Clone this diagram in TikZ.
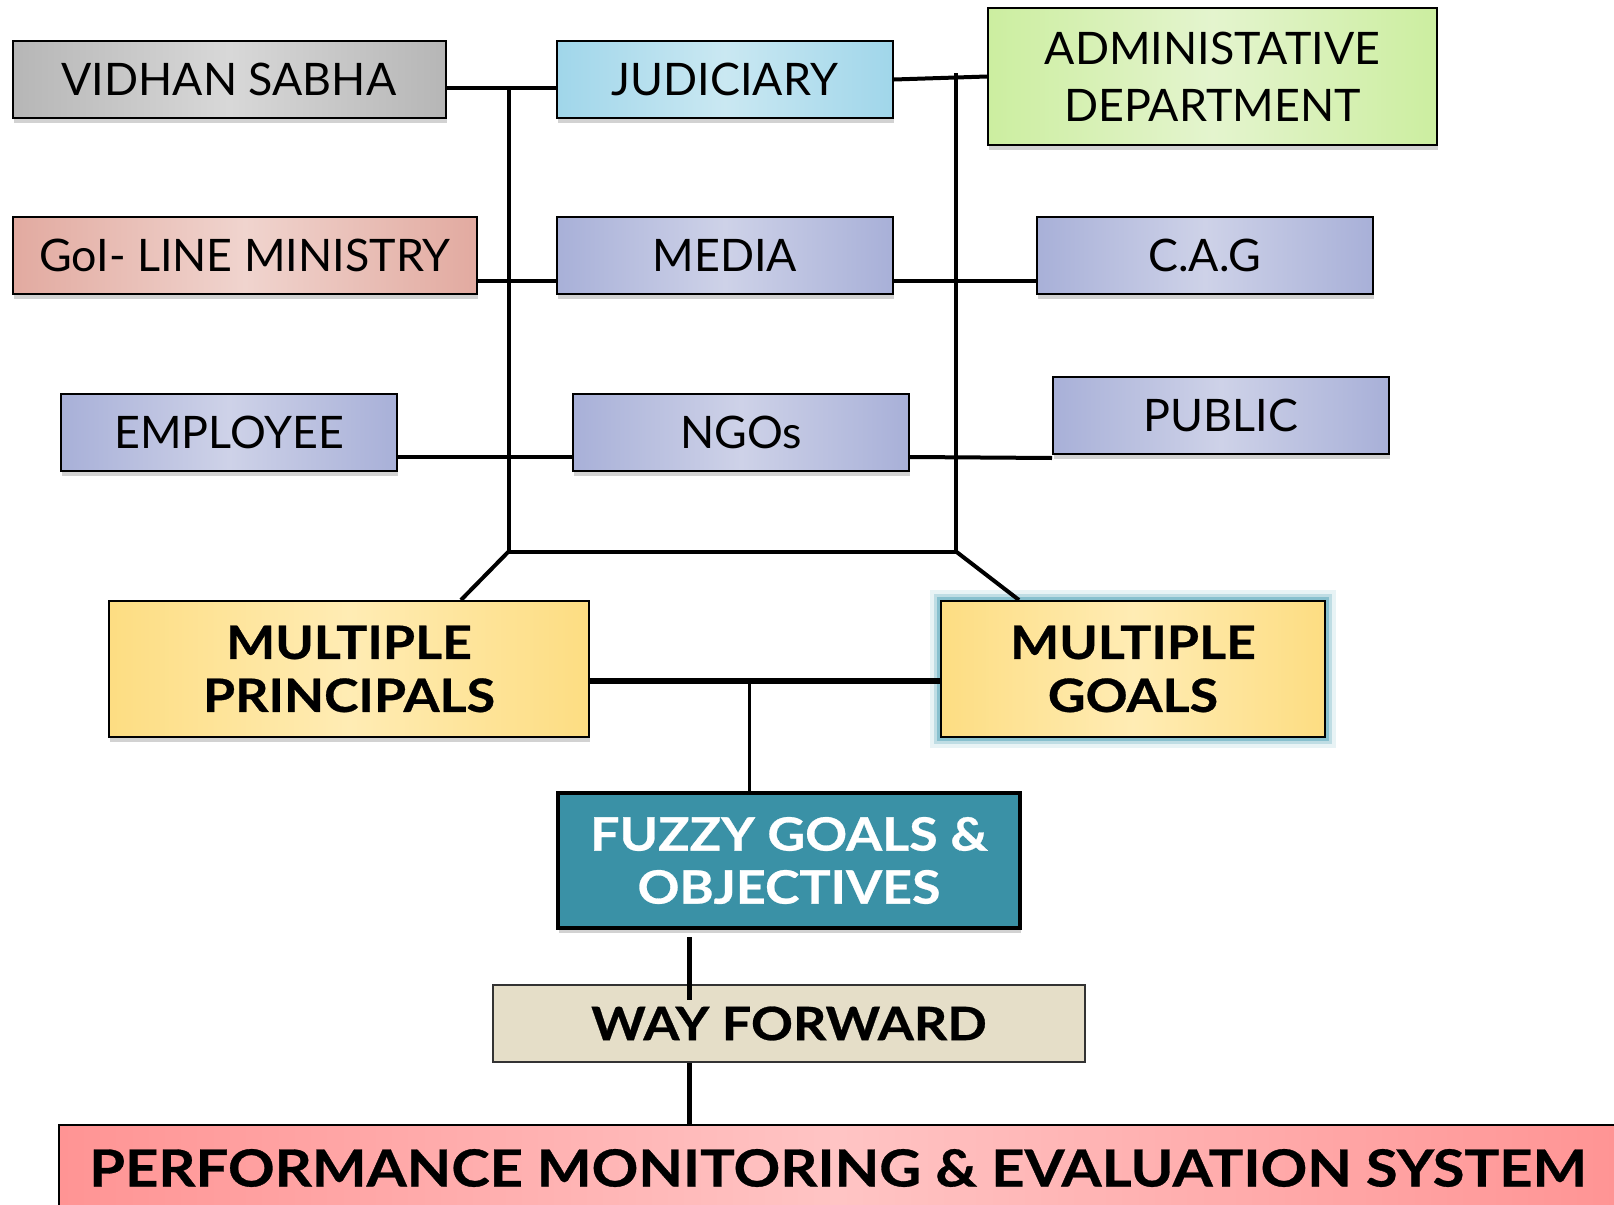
\documentclass[tikz,border=0pt]{standalone}
\usepackage{fontspec}
\setmainfont{Lato}
\newfontfamily\wideface{Lato}[FakeStretch=1.13, FakeBold=0.6]
\usetikzlibrary{shadows}
\definecolor{SabhaGrey}{RGB}{182,182,182}
\definecolor{SabhaLight}{RGB}{216,216,216}
\definecolor{CourtBlue}{RGB}{160,214,234}
\definecolor{CourtLight}{RGB}{202,232,242}
\definecolor{AdminGreen}{RGB}{204,238,160}
\definecolor{AdminLight}{RGB}{228,244,206}
\definecolor{MinistryRed}{RGB}{226,170,160}
\definecolor{MinistryLight}{RGB}{240,212,206}
\definecolor{StakeBlue}{RGB}{168,176,216}
\definecolor{StakeLight}{RGB}{206,210,232}
\definecolor{GoalYellow}{RGB}{253,221,130}
\definecolor{GoalLight}{RGB}{255,236,180}
\definecolor{GlowTeal}{RGB}{70,158,180}
\definecolor{FuzzyTeal}{RGB}{58,145,166}
\definecolor{WayBeige}{RGB}{229,222,200}
\definecolor{PerfRed}{RGB}{255,148,148}
\definecolor{PerfLight}{RGB}{255,196,196}

\begin{document}
\begin{tikzpicture}[x=0.5pt, y=-0.5pt,
    box/.style={draw, line width=1pt, inner sep=0pt, align=center,
      drop shadow={shadow xshift=0.6pt, shadow yshift=-2.5pt, opacity=0.35}},
    grad/.style 2 args={left color=#1, right color=#1, middle color=#2},
    small/.style={font=\fontsize{22.4}{28.5}\selectfont},
    big/.style={font=\wideface\fontsize{23}{26.5}\selectfont\bfseries},
    stake/.style={box, small, grad={StakeBlue}{StakeLight}, minimum width=168pt, minimum height=38.5pt},
    link/.style={line width=2pt}]
    \useasboundingbox[fill=white] (0,0) rectangle (1614,1205);

    % Principals and stakeholders
    \node[box, small, grad={SabhaGrey}{SabhaLight}, minimum width=216.5pt, minimum height=38.5pt] (vidhan) at (229,79.5) {VIDHAN SABHA};
    \node[box, small, grad={CourtBlue}{CourtLight}, minimum width=168pt, minimum height=38.5pt] (judiciary) at (725,79.5) {JUDICIARY};
    \node[box, small, grad={AdminGreen}{AdminLight}, minimum width=224.5pt, minimum height=68.5pt] (admin) at (1212.5,76.5) {ADMINISTATIVE\\DEPARTMENT};
    \node[box, small, grad={MinistryRed}{MinistryLight}, minimum width=232pt, minimum height=38.5pt] (ministry) at (245,255.5) {GoI- LINE MINISTRY};
    \node[stake] (media) at (725,255.5) {MEDIA};
    \node[stake] (cag) at (1205,255.5) {C.A.G};
    \node[stake] (employee) at (229,432) {EMPLOYEE};
    \node[stake] (ngos) at (741,432) {NGOs};
    \node[stake] (public) at (1221,415.5) {PUBLIC};

    % Outcome boxes
    \node[box, big, grad={GoalYellow}{GoalLight}, minimum width=240pt, minimum height=68pt] (principals) at (349,669) {MULTIPLE\\PRINCIPALS};
    \node[draw, line width=1pt, inner sep=0pt, align=center, big, grad={GoalYellow}{GoalLight}, minimum width=192pt, minimum height=68pt,
      preaction={draw=GlowTeal, line width=11pt, opacity=0.12},
      preaction={draw=GlowTeal, line width=7pt, opacity=0.25},
      preaction={draw=GlowTeal, line width=4pt, opacity=0.45}] (goals) at (1133,669) {MULTIPLE\\GOALS};
    \node[box, big, fill=FuzzyTeal, text=white, line width=2.4pt, minimum width=231pt, minimum height=67.5pt] (fuzzy) at (789,860.5) {FUZZY GOALS \&\\OBJECTIVES};
    \node[draw=black!80, line width=0.8pt, inner sep=0pt, big, fill=WayBeige, minimum width=296pt, minimum height=38.5pt] (way) at (789,1023.5) {WAY FORWARD};
    \node[box, font=\wideface\fontsize{25.6}{30}\selectfont\bfseries, grad={PerfRed}{PerfLight}, minimum width=779pt, minimum height=43pt] (perf) at (838,1168) {PERFORMANCE MONITORING \& EVALUATION SYSTEM};

    % Spines
    \coordinate (ltop) at (508.6,88);
    \coordinate (rtop) at (956,73);
    \coordinate (lspine) at (508.6,551.5);
    \coordinate (rspine) at (956,551.5);
    \coordinate (join) at (749,681);
    \draw[link] (ltop) -- (lspine) -- (rspine) -- (rtop);

    % Rows
    \draw[link] ([yshift=-4.25pt]vidhan.east) -- ([yshift=-4.25pt]judiciary.west);
    \draw[link] (judiciary.east) -- (admin.west);
    \draw[link] ([yshift=-12.75pt]ministry.east) -- ([yshift=-12.75pt]media.west);
    \draw[link] ([yshift=-12.75pt]media.east) -- ([yshift=-12.75pt]cag.west);
    \draw[link] ([yshift=-12.5pt]employee.east) -- ([yshift=-12.5pt]ngos.west);
    \draw[link] ([yshift=-12.5pt]ngos.east) -- ([yshift=-1.5pt]public.south west);

    % Down the chain
    \draw[link] (lspine) -- ([xshift=56pt]principals.north);
    \draw[link] (rspine) -- ([xshift=-57pt]goals.north);
    \draw[line width=3pt] ([yshift=-6pt]principals.east) -- ([yshift=-6pt]goals.west);
    \draw[line width=1.5pt] (join) -- (join |- fuzzy.north);
    \draw[line width=2.5pt] ([xshift=-50pt, yshift=-3.5pt]fuzzy.south) -- ([xshift=-50pt, yshift=-8pt]way.north);
    \draw[line width=2.5pt] ([xshift=-50pt]way.south) -- ([xshift=-50pt]way.south |- perf.north);
\end{tikzpicture}
\end{document}
